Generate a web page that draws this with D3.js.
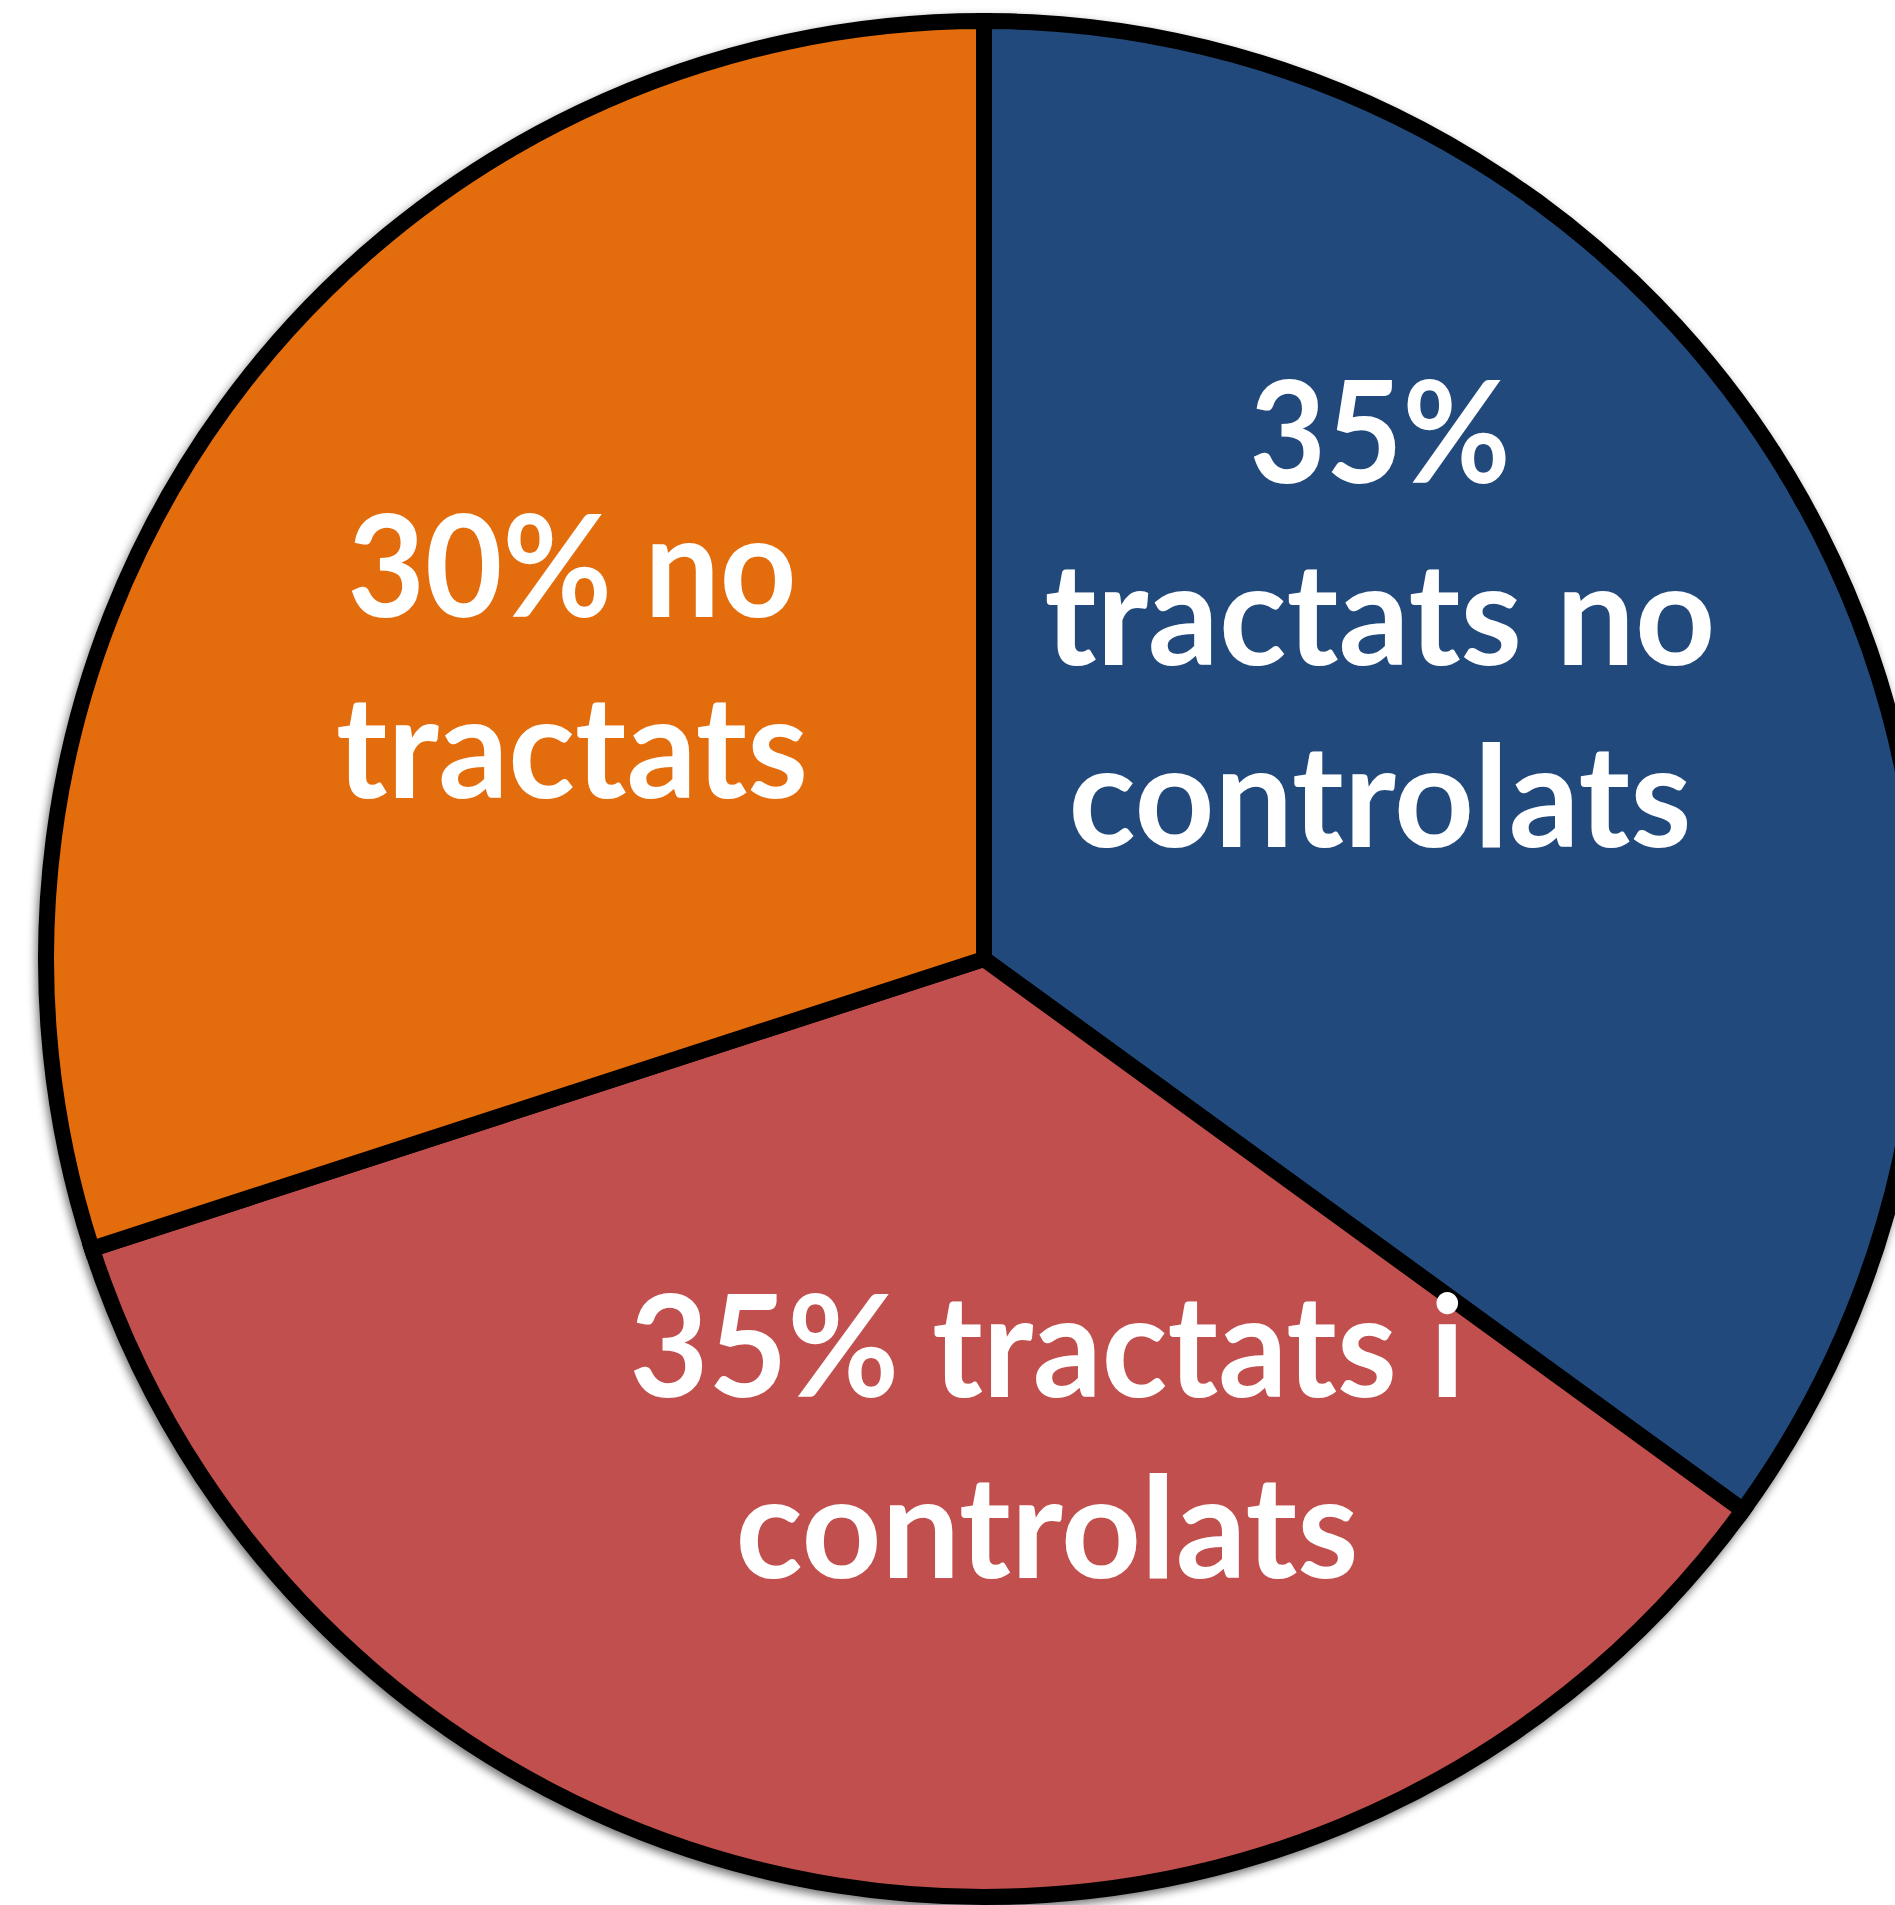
<!DOCTYPE html>
<html>
<head>
<meta charset="utf-8">
<script src="https://cdn.jsdelivr.net/npm/d3@7"></script>
<style>
  html, body { margin: 0; padding: 0; background: #ffffff; }
  svg { display: block; }
</style>
</head>
<body>
<div id="chart"></div>
<script>
// Share of patients by treatment status (clockwise from 12 o'clock)
const categories = ["tractats no controlats", "tractats i controlats", "no tractats"];
const values = [35, 35, 30];
const colors = ["#214A7C", "#C0504D", "#E36C0A"];
// Label text, one entry per line
const labelLines = [
  ["35%", "tractats no", "controlats"],
  ["35% tractats i", "controlats"],
  ["30% no", "tractats"]
];

const W = 1895, H = 1905;
const cx = 984, cy = 959, R = 938;

// Label block placement relative to the pie centre: x of the centre line,
// baseline of the first line, line step, and the width each line spans
const labelLayout = [
  { x: 396, y: -476, step: 182, widths: [261, 671, 623] },
  { x: 63,  y: 438,  step: 181, widths: [835, 623] },
  { x: -412, y: -342, step: 181, widths: [449, 472] }
];

const svg = d3.select("#chart").append("svg")
  .attr("width", W).attr("height", H);

const defs = svg.append("defs");
const f = defs.append("filter").attr("id", "shadow")
  .attr("x", "-10%").attr("y", "-10%").attr("width", "120%").attr("height", "120%");
f.append("feGaussianBlur").attr("in", "SourceAlpha").attr("stdDeviation", 5).attr("result", "b");
f.append("feOffset").attr("in", "b").attr("dx", -2).attr("dy", 4).attr("result", "o");
f.append("feComponentTransfer").attr("in", "o").attr("result", "s")
  .append("feFuncA").attr("type", "linear").attr("slope", 0.55);
const m = f.append("feMerge");
m.append("feMergeNode").attr("in", "s");
m.append("feMergeNode").attr("in", "SourceGraphic");

const pie = d3.pie().sort(null).value(d => d).startAngle(0).endAngle(2 * Math.PI);
const arc = d3.arc().innerRadius(0).outerRadius(R);
const arcs = pie(values);

const g = svg.append("g").attr("transform", `translate(${cx},${cy})`);

g.append("g").attr("filter", "url(#shadow)")
  .selectAll("path").data(arcs).join("path")
  .attr("d", arc)
  .attr("fill", (d, i) => colors[i])
  .attr("stroke", "#000")
  .attr("stroke-width", 16)
  .attr("stroke-linejoin", "miter");

const labels = g.append("g")
  .attr("font-family", "Lato, 'Open Sans', sans-serif")
  .attr("font-weight", 700)
  .attr("font-size", 142)
  .attr("fill", "#ffffff")
  .attr("text-anchor", "middle");

labelLines.forEach((lines, i) => {
  const L = labelLayout[i];
  lines.forEach((t, j) => {
    labels.append("text")
      .attr("x", L.x)
      .attr("y", L.y + j * L.step)
      .attr("textLength", L.widths[j])
      .attr("lengthAdjust", "spacingAndGlyphs")
      .text(t);
  });
});
</script>
</body>
</html>
